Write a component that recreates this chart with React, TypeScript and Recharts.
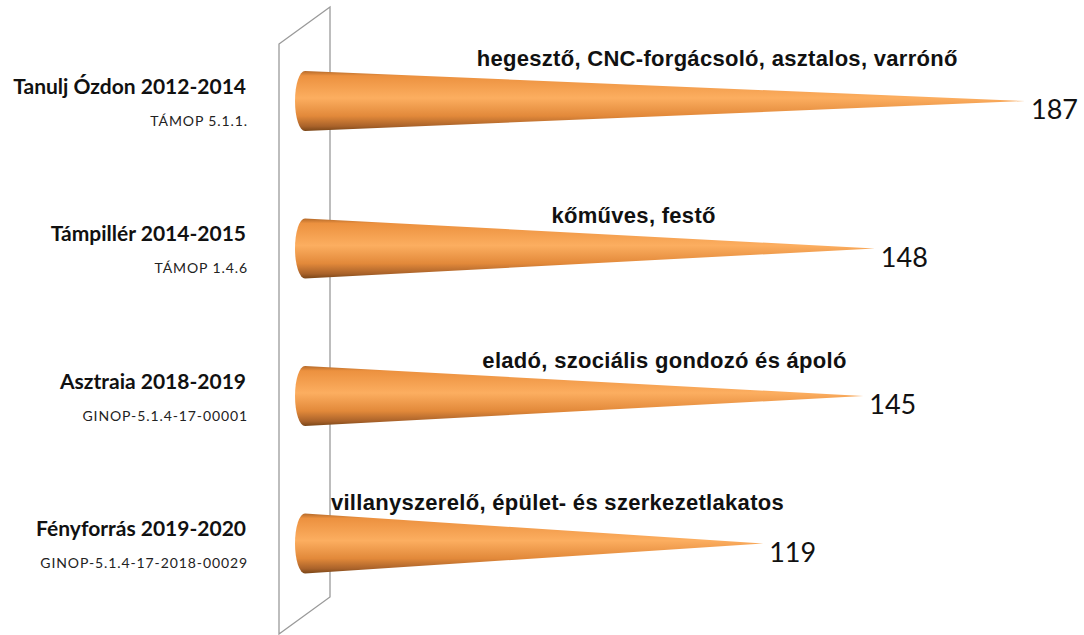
import React from 'react';
import { BarChart, Bar, XAxis, YAxis, LabelList, Customized } from 'recharts';

const projects = ['Tanulj Ózdon 2012-2014', 'Támpillér 2014-2015', 'Asztraia 2018-2019', 'Fényforrás 2019-2020'];
const programmes = ['TÁMOP 5.1.1.', 'TÁMOP 1.4.6', 'GINOP-5.1.4-17-00001', 'GINOP-5.1.4-17-2018-00029'];
const trades = [
  'hegesztő, CNC-forgácsoló, asztalos, varrónő',
  'kőműves, festő',
  'eladó, szociális gondozó és ápoló',
  'villanyszerelő, épület- és szerkezetlakatos',
];
const participants = [187, 148, 145, 119];

// hand placement of the trade captions above each cone (dx, dy from default)
const captionNudge = [
  [0, -35],
  [8, -26],
  [46, -28],
  [0, -34],
];

const W = 1084;
const H = 635;
const margin = { top: 27, right: 59, bottom: 18, left: 0 };
const axisWidth = 305;

const data = projects.map((name, i) => ({
  name,
  programme: programmes[i],
  trade: trades[i],
  value: participants[i],
}));

const Cone = (props: any) => {
  const { x, y, width, height } = props;
  const cy = y + height / 2;
  const rx = 10;
  const d = `M${x},${y} L${x + width},${cy} L${x},${y + height} A${rx},${height / 2} 0 0 1 ${x},${y} Z`;
  return <path d={d} fill="url(#coneFill)" />;
};

const ProjectTick = (props: any) => {
  const { x, y, payload, index } = props;
  return (
    <g>
      <text x={x - 59} y={y - 7} textAnchor="end" fontFamily="Lato" fontWeight={700} fontSize={21} fill="#111">
        {payload.value}
      </text>
      <text x={x - 57} y={y + 25} textAnchor="end" fontFamily="Lato" fontSize={14} letterSpacing={0.9} fill="#222">
        {programmes[index]}
      </text>
    </g>
  );
};

const TradeCaption = (props: any) => {
  const { x, y, width, height, index, value } = props;
  const [dx, dy] = captionNudge[index] || [0, -30];
  return (
    <text
      x={x - 27 + width * 0.61 + dx}
      y={y + height / 2 + dy}
      textAnchor="middle"
      fontFamily="Liberation Sans"
      fontWeight={700}
      fontSize={22}
      letterSpacing={0.3}
      fill="#111"
    >
      {value}
    </text>
  );
};

const ValueLabel = (props: any) => {
  const { x, y, width, height, value } = props;
  return (
    <text x={x + width + 6} y={y + height / 2 + 18} fontFamily="Lato" fontSize={27} fill="#111">
      {value}
    </text>
  );
};

const Wall = () => {
  const left = axisWidth + margin.left;
  const front = left - 26;
  const back = left + 25;
  const pts = `${front},44 ${back},7 ${back},${H - 38} ${front},${H - 1}`;
  return <polygon points={pts} fill="none" stroke="#9a9a9a" strokeWidth={1.3} />;
};

export default function App() {
  return (
    <div style={{ position: 'absolute', left: 0, top: 0, background: '#fff' }}>
      <BarChart width={W} height={H} data={data} layout="vertical" margin={margin}>
        <defs>
          <linearGradient id="coneFill" x1="0" y1="0" x2="0" y2="1">
            <stop offset="0%" stopColor="#b56a2a" />
            <stop offset="8%" stopColor="#ec913f" />
            <stop offset="45%" stopColor="#fcae60" />
            <stop offset="75%" stopColor="#e2893a" />
            <stop offset="92%" stopColor="#a9622a" />
            <stop offset="100%" stopColor="#7a4618" />
          </linearGradient>
        </defs>
        <Customized component={Wall} />
        <XAxis type="number" domain={[0, 187]} hide />
        <YAxis
          type="category"
          dataKey="name"
          width={axisWidth}
          axisLine={false}
          tickLine={false}
          tickSize={0}
          tickMargin={0}
          tick={<ProjectTick />}
          interval={0}
        />
        <Bar dataKey="value" barSize={60} shape={<Cone />} isAnimationActive={false}>
          <LabelList dataKey="trade" content={<TradeCaption />} />
          <LabelList dataKey="value" content={<ValueLabel />} />
        </Bar>
      </BarChart>
    </div>
  );
}
